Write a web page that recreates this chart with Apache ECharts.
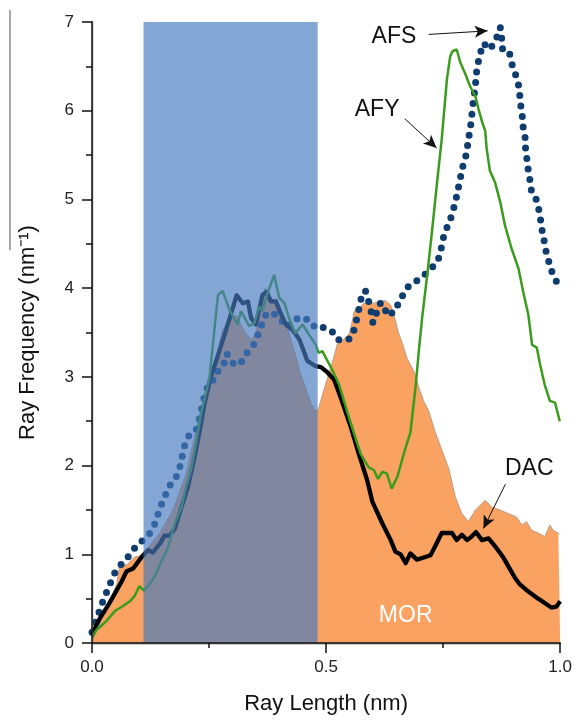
<!DOCTYPE html>
<html>
<head>
<meta charset="utf-8">
<script src="https://cdn.jsdelivr.net/npm/echarts@6/dist/echarts.min.js"></script>
<style>
  html, body { margin: 0; padding: 0; background: #fff; }
  #chart { width: 575px; height: 720px; }
</style>
</head>
<body>
<div id="chart"></div>
<script>
// ray length (nm) / ray frequency (nm^-1)
const morData = [
  [0.0, 0.02], [0.031, 0.38], [0.053, 0.67], [0.060, 0.90], [0.074, 0.88], [0.091, 0.97],
  [0.109, 0.99], [0.120, 1.08], [0.145, 1.24], [0.173, 1.50], [0.201, 1.91], [0.230, 2.58],
  [0.247, 2.92], [0.265, 3.22], [0.279, 3.53], [0.294, 3.63], [0.308, 3.70], [0.318, 3.59],
  [0.329, 3.49], [0.340, 3.42], [0.350, 3.49], [0.361, 3.81], [0.370, 4.00], [0.379, 3.89],
  [0.390, 3.87], [0.400, 3.82], [0.414, 3.63], [0.425, 3.42], [0.436, 3.22], [0.446, 3.03],
  [0.457, 2.87], [0.468, 2.70], [0.477, 2.62], [0.483, 2.63], [0.499, 2.92], [0.513, 3.16],
  [0.524, 3.37], [0.535, 3.41], [0.549, 3.48], [0.556, 3.63], [0.560, 3.74], [0.570, 3.77],
  [0.581, 3.83], [0.591, 3.85], [0.602, 3.83], [0.613, 3.85], [0.627, 3.86], [0.638, 3.81],
  [0.645, 3.70], [0.654, 3.51], [0.664, 3.36], [0.673, 3.21], [0.684, 3.10], [0.691, 3.02],
  [0.700, 2.85], [0.709, 2.72], [0.719, 2.62], [0.733, 2.38], [0.747, 2.18], [0.762, 1.97],
  [0.776, 1.65], [0.790, 1.46], [0.804, 1.37], [0.819, 1.50], [0.840, 1.61], [0.854, 1.53],
  [0.872, 1.50], [0.889, 1.46], [0.907, 1.42], [0.918, 1.33], [0.928, 1.37], [0.939, 1.27],
  [0.953, 1.24], [0.967, 1.20], [0.978, 1.33], [0.985, 1.27], [0.996, 1.24], [1.0, 1.22]
];

const afsData = [
  [0.0, 0.12], [0.024, 0.48], [0.042, 0.71], [0.051, 0.82], [0.077, 0.97], [0.094, 1.09],
  [0.113, 1.18], [0.129, 1.27], [0.138, 1.40], [0.145, 1.52], [0.154, 1.63], [0.164, 1.76],
  [0.179, 1.86], [0.187, 1.97], [0.198, 2.23], [0.209, 2.36], [0.223, 2.41], [0.230, 2.54],
  [0.240, 2.78], [0.247, 2.89], [0.255, 2.91], [0.262, 3.02], [0.281, 3.13], [0.287, 3.26],
  [0.294, 3.23], [0.304, 3.13], [0.322, 3.18], [0.333, 3.29], [0.345, 3.36], [0.354, 3.47],
  [0.364, 3.61], [0.373, 3.72], [0.386, 3.72], [0.400, 3.67], [0.416, 3.56], [0.432, 3.65],
  [0.455, 3.67], [0.471, 3.57], [0.487, 3.59], [0.499, 3.53], [0.513, 3.51], [0.524, 3.42],
  [0.545, 3.41], [0.555, 3.45], [0.562, 3.57], [0.567, 3.69], [0.572, 3.81], [0.577, 3.94],
  [0.584, 3.97], [0.591, 3.85], [0.597, 3.72], [0.600, 3.61], [0.607, 3.71], [0.616, 3.83],
  [0.623, 3.82], [0.630, 3.69], [0.648, 3.74], [0.655, 3.84], [0.666, 3.94], [0.677, 4.03],
  [0.693, 4.08], [0.710, 4.15], [0.726, 4.23], [0.739, 4.31], [0.746, 4.45], [0.750, 4.56],
  [0.758, 4.68], [0.767, 4.80], [0.774, 4.93], [0.779, 5.04], [0.784, 5.17], [0.789, 5.30],
  [0.794, 5.42], [0.801, 5.53], [0.803, 5.66], [0.808, 5.79], [0.810, 5.90], [0.813, 6.03],
  [0.815, 6.14], [0.819, 6.27], [0.820, 6.39], [0.824, 6.52], [0.829, 6.64], [0.836, 6.76],
  [0.850, 6.69], [0.864, 6.82], [0.872, 6.94], [0.875, 6.82], [0.877, 6.69], [0.891, 6.67],
  [0.896, 6.54], [0.904, 6.42], [0.911, 6.29], [0.914, 6.16], [0.916, 6.05], [0.919, 5.94],
  [0.921, 5.81], [0.925, 5.70], [0.926, 5.58], [0.929, 5.45], [0.932, 5.32], [0.936, 5.20],
  [0.939, 5.08], [0.950, 4.99], [0.955, 4.87], [0.959, 4.74], [0.962, 4.63], [0.967, 4.50],
  [0.971, 4.38], [0.978, 4.26], [0.985, 4.14], [0.997, 4.03], [1.0, 4.0]
];

const afyData = [
  [0.0, 0.06], [0.010, 0.15], [0.021, 0.20], [0.031, 0.25], [0.049, 0.36], [0.067, 0.42],
  [0.081, 0.47], [0.091, 0.53], [0.101, 0.64], [0.111, 0.59], [0.120, 0.64], [0.134, 0.75],
  [0.148, 0.92], [0.162, 1.07], [0.177, 1.35], [0.191, 1.53], [0.201, 1.76], [0.212, 1.96],
  [0.223, 2.28], [0.233, 2.58], [0.251, 2.99], [0.269, 3.92], [0.279, 3.97], [0.294, 3.75],
  [0.311, 3.59], [0.318, 3.74], [0.336, 3.57], [0.347, 3.61], [0.357, 3.79], [0.364, 3.74],
  [0.375, 3.94], [0.389, 4.15], [0.400, 3.89], [0.411, 3.83], [0.421, 3.66], [0.434, 3.49],
  [0.450, 3.59], [0.464, 3.47], [0.478, 3.36], [0.484, 3.27], [0.492, 3.29], [0.503, 3.18],
  [0.513, 3.08], [0.528, 2.91], [0.553, 2.47], [0.574, 2.13], [0.591, 1.98], [0.602, 1.95],
  [0.611, 1.85], [0.620, 1.93], [0.630, 1.91], [0.640, 1.74], [0.652, 1.87], [0.668, 2.17],
  [0.680, 2.37], [0.691, 2.88], [0.698, 3.29], [0.705, 3.66], [0.716, 4.15], [0.726, 4.63],
  [0.737, 5.19], [0.747, 5.68], [0.758, 6.35], [0.765, 6.61], [0.770, 6.67], [0.779, 6.69],
  [0.787, 6.54], [0.797, 6.42], [0.808, 6.27], [0.819, 6.16], [0.826, 6.01], [0.834, 5.86],
  [0.840, 5.77], [0.843, 5.57], [0.850, 5.32], [0.861, 5.19], [0.872, 4.97], [0.882, 4.71],
  [0.896, 4.45], [0.911, 4.22], [0.921, 3.96], [0.932, 3.70], [0.940, 3.36], [0.950, 3.33],
  [0.957, 3.14], [0.967, 2.91], [0.978, 2.73], [0.989, 2.71], [0.999, 2.50]
];

const dacData = [
  [0.0, 0.10], [0.017, 0.28], [0.035, 0.43], [0.049, 0.56], [0.063, 0.69], [0.074, 0.81],
  [0.088, 0.84], [0.106, 0.97], [0.120, 1.05], [0.130, 1.02], [0.145, 1.12], [0.155, 1.21],
  [0.166, 1.21], [0.177, 1.29], [0.191, 1.53], [0.205, 1.76], [0.219, 2.09], [0.230, 2.39],
  [0.240, 2.69], [0.251, 2.95], [0.272, 3.29], [0.294, 3.66], [0.309, 3.92], [0.322, 3.83],
  [0.333, 3.85], [0.340, 3.66], [0.350, 3.59], [0.364, 3.92], [0.373, 3.96], [0.382, 3.85],
  [0.393, 3.85], [0.400, 3.75], [0.414, 3.59], [0.428, 3.53], [0.443, 3.42], [0.460, 3.18],
  [0.478, 3.12], [0.489, 3.11], [0.503, 3.05], [0.517, 2.97], [0.531, 2.77], [0.553, 2.43],
  [0.570, 2.13], [0.588, 1.83], [0.599, 1.59], [0.620, 1.35], [0.638, 1.16], [0.648, 1.03],
  [0.659, 1.00], [0.670, 0.90], [0.680, 1.01], [0.694, 0.94], [0.712, 0.97], [0.723, 0.99],
  [0.733, 1.09], [0.747, 1.24], [0.769, 1.24], [0.779, 1.16], [0.790, 1.22], [0.801, 1.16],
  [0.811, 1.20], [0.820, 1.25], [0.833, 1.16], [0.847, 1.18], [0.861, 1.09], [0.879, 0.96],
  [0.893, 0.83], [0.904, 0.73], [0.914, 0.66], [0.932, 0.58], [0.953, 0.50], [0.967, 0.45],
  [0.981, 0.40], [0.992, 0.41], [1.0, 0.47]
];

// shaded ray-length band
const bandRange = [0.11, 0.482];

// text annotations: [text, x, y, colour]
const notes = [
  ['AFS', 0.645, 6.83, '#111'],
  ['AFY', 0.609, 6.01, '#111'],
  ['DAC', 0.934, 1.96, '#111'],
  ['MOR', 0.670, 0.31, '#fff']
];
// arrows: [x1, y1, x2, y2]
const arrows = [
  [0.719, 6.86, 0.845, 6.90],
  [0.668, 5.91, 0.736, 5.58],
  [0.883, 1.79, 0.836, 1.29]
];

const xMin = 0, xMax = 1, yMin = 0, yMax = 7;
const font = 'Liberation Sans, Arial, sans-serif';

let chart = echarts.init(document.getElementById('chart'));

chart.setOption({
  backgroundColor: '#fff',
  animation: false,
  textStyle: { fontFamily: font },
  grid: { left: 92, right: 13, top: 22, bottom: 73 },
  xAxis: [{
    type: 'value', min: xMin, max: xMax, interval: 0.5, z: 20,
    name: 'Ray Length (nm)', nameLocation: 'middle', nameGap: 50,
    nameTextStyle: { fontSize: 22, color: '#111', fontFamily: font },
    axisLine: { lineStyle: { color: '#111', width: 1.5 } },
    axisTick: { length: 10, lineStyle: { color: '#111', width: 1.5 } },
    minorTick: { show: true, splitNumber: 2, length: 5, lineStyle: { color: '#111', width: 1.5 } },
    axisLabel: { fontSize: 17, color: '#222', margin: 16, formatter: v => v.toFixed(1) },
    splitLine: { show: false }
  }, {
    type: 'value', min: xMin, max: xMax, position: 'top', z: 20,
    axisLine: { show: true, lineStyle: { color: '#333', width: 1.3 } },
    axisTick: { show: false }, axisLabel: { show: false }, splitLine: { show: false }
  }],
  yAxis: [{
    type: 'value', min: yMin, max: yMax, interval: 1, z: 20,
    name: 'Ray Frequency (nm\u207B\u00B9)', nameLocation: 'middle', nameGap: 53,
    nameTextStyle: { fontSize: 22, color: '#111', fontFamily: font },
    axisLine: { show: true, lineStyle: { color: '#111', width: 1.5 } },
    axisTick: { length: 10, lineStyle: { color: '#111', width: 1.5 } },
    minorTick: { show: true, splitNumber: 2, length: 6, lineStyle: { color: '#111', width: 1.5 } },
    axisLabel: { fontSize: 17, color: '#222', margin: 18 },
    splitLine: { show: false }
  }, {
    type: 'value', min: yMin, max: yMax, position: 'right', z: 20,
    axisLine: { show: true, lineStyle: { color: '#333', width: 1.3 } },
    axisTick: { show: false }, axisLabel: { show: false }, splitLine: { show: false }
  }],
  graphic: [{
    type: 'line', shape: { x1: 10, y1: 10, x2: 10, y2: 250 },
    style: { stroke: '#8a8a8a', lineWidth: 1.5 }
  }],
  series: [{
    name: 'MOR', type: 'line', data: morData, showSymbol: false, z: 1,
    lineStyle: { color: '#a89484', width: 0.8 },
    areaStyle: { color: '#f9a262', opacity: 1 }
  }, {
    name: 'AFS', type: 'line', data: afsData, showSymbol: false, z: 2,
    lineStyle: { color: '#0f3d70', width: 7, type: [0, 10.6], cap: 'round' }
  }, {
    name: 'DAC', type: 'line', data: dacData, showSymbol: false, z: 3,
    lineStyle: { color: '#000', width: 4.3, join: 'round' }
  }, {
    name: 'AFY', type: 'line', data: afyData, showSymbol: false, z: 4,
    lineStyle: { color: '#3b9b1c', width: 2.5 }
  }, {
    name: 'band', type: 'custom', z: 10, silent: true,
    data: [bandRange],
    encode: { x: [0, 1] },
    renderItem: (params, api) => {
      let p0 = api.coord([api.value(0), yMax]);
      let p1 = api.coord([api.value(1), yMin]);
      return {
        type: 'rect',
        shape: { x: p0[0], y: p0[1], width: p1[0] - p0[0], height: p1[1] - p0[1] },
        style: { fill: 'rgba(71,122,191,0.67)' }
      };
    }
  }, {
    name: 'notes', type: 'line', data: [], z: 12, silent: true,
    markLine: {
      silent: true, symbol: ['none', 'arrow'], symbolSize: [9, 13],
      lineStyle: { color: '#111', width: 1, type: 'solid' },
      label: { show: false },
      data: arrows.map(a => [{ coord: [a[0], a[1]] }, { coord: [a[2], a[3]] }])
    },
    markPoint: {
      silent: true, symbol: 'circle', symbolSize: 1,
      itemStyle: { color: 'transparent' },
      label: { show: true, position: 'inside', fontSize: 23, fontFamily: font, formatter: p => p.name },
      data: notes.map(n => ({ name: n[0], coord: [n[1], n[2]], label: { color: n[3] } }))
    }
  }]
});
</script>
</body>
</html>
